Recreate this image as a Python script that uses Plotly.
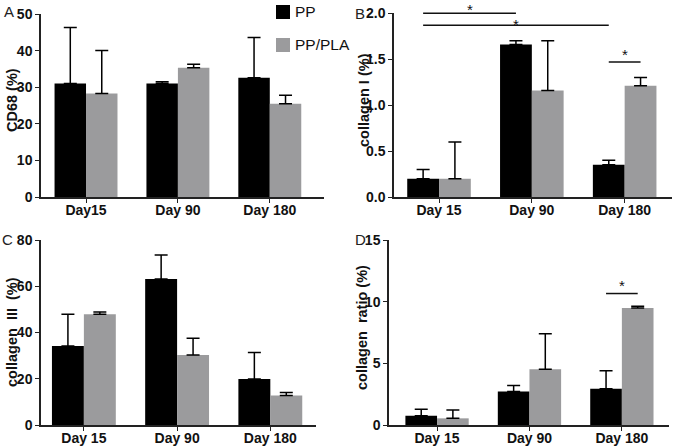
import plotly.graph_objects as go

W, H = 675, 446

# ---------------- data ----------------
cats_a = ["Day15", "Day 90", "Day 180"]
cats = ["Day 15", "Day 90", "Day 180"]
series_names = ["PP", "PP/PLA"]

cd68_pp = [31.0, 31.0, 32.6]
cd68_pp_err = [15.3, 0.5, 11.0]
cd68_pla = [28.3, 35.3, 25.5]
cd68_pla_err = [11.7, 1.0, 2.3]

col1_pp = [0.20, 1.66, 0.35]
col1_pp_err = [0.10, 0.04, 0.05]
col1_pla = [0.20, 1.16, 1.21]
col1_pla_err = [0.40, 0.54, 0.09]

col3_pp = [34.2, 63.1, 19.9]
col3_pp_err = [13.7, 10.4, 11.4]
col3_pla = [47.9, 30.3, 12.8]
col3_pla_err = [1.0, 7.2, 1.3]

ratio_pp = [0.76, 2.71, 2.93]
ratio_pp_err = [0.51, 0.49, 1.46]
ratio_pla = [0.54, 4.53, 9.49]
ratio_pla_err = [0.68, 2.87, 0.14]

# ---------------- style ----------------
BLACK = "#000000"
GRAY = "#9b9b9d"
AXC = "#222222"
FONT = "Liberation Sans, Arial, sans-serif"
SERIES_COLORS = [BLACK, GRAY]

def px_x(p):
    return p / W

def px_y(p):
    return 1 - p / H

panels = [
    dict(c=cats_a, pp=cd68_pp, ppe=cd68_pp_err, pla=cd68_pla, plae=cd68_pla_err,
         xd=(41, 324), yd=(197, 14), xr=(-0.49, 2.59), yr=(0, 50), dt=10, fmt="d"),
    dict(c=cats, pp=col1_pp, ppe=col1_pp_err, pla=col1_pla, plae=col1_pla_err,
         xd=(394, 672), yd=(197, 13.3), xr=(-0.485, 2.51), yr=(0, 2.0), dt=0.5, fmt=".1f"),
    dict(c=cats, pp=col3_pp, ppe=col3_pp_err, pla=col3_pla, plae=col3_pla_err,
         xd=(41, 316), yd=(425, 240), xr=(-0.46, 2.49), yr=(0, 80), dt=20, fmt="d"),
    dict(c=cats, pp=ratio_pp, ppe=ratio_pp_err, pla=ratio_pla, plae=ratio_pla_err,
         xd=(389, 669), yd=(425, 240), xr=(-0.52, 2.51), yr=(0, 15), dt=5, fmt="d"),
]

fig = go.Figure()
layout = dict(
    width=W, height=H, autosize=False,
    margin=dict(l=0, r=0, t=0, b=0, autoexpand=False),
    paper_bgcolor="white", plot_bgcolor="white",
    barmode="group", bargap=0.315, bargroupgap=0,
    font=dict(family=FONT, color=AXC),
    showlegend=False,
)

for i, p in enumerate(panels):
    n = "" if i == 0 else str(i + 1)
    xa, ya = "x" + n, "y" + n
    for name, vals, errs, col in [(series_names[0], p["pp"], p["ppe"], BLACK),
                                  (series_names[1], p["pla"], p["plae"], GRAY)]:
        fig.add_trace(go.Bar(
            x=p["c"], y=vals, name=name, xaxis=xa, yaxis=ya,
            marker=dict(color=col, line=dict(width=0)),
            error_y=dict(type="data", array=errs, arrayminus=[0] * len(errs),
                         symmetric=False, color=BLACK, thickness=1.5, width=6.5),
            legendgroup=name,
        ))
    layout["xaxis" + n] = dict(
        domain=[px_x(p["xd"][0]), px_x(p["xd"][1])], anchor=ya,
        type="category", range=list(p["xr"]),
        showline=True, linecolor=AXC, linewidth=1.5,
        ticks="outside", ticklen=4, tickwidth=1.2, tickcolor=AXC,
        ticklabelstandoff=-5,
        tickfont=dict(size=14, family=FONT, color="#111111", weight="bold"),
        showgrid=False, zeroline=False, fixedrange=True,
    )
    layout["yaxis" + n] = dict(
        domain=[px_y(p["yd"][0]), px_y(p["yd"][1])], anchor=xa,
        range=list(p["yr"]), dtick=p["dt"], tick0=0, tickformat=p["fmt"],
        showline=True, linecolor=AXC, linewidth=1.5,
        ticks="outside", ticklen=4, tickwidth=1.2, tickcolor=AXC,
        tickfont=dict(size=14, family=FONT, color="#111111", weight="bold"),
        showgrid=False, zeroline=False, fixedrange=True,
    )

fig.update_layout(**layout)

# ---------------- helpers for significance marks ----------------
BAR_OFF = (1 - 0.315) / 4  # offset of each bar centre from category centre

def xpaper(panel, v):
    p = panels[panel]
    lo, hi = p["xr"]
    d0, d1 = px_x(p["xd"][0]), px_x(p["xd"][1])
    return d0 + (v - lo) / (hi - lo) * (d1 - d0)

def ypaper(panel, v):
    p = panels[panel]
    lo, hi = p["yr"]
    d0, d1 = px_y(p["yd"][0]), px_y(p["yd"][1])
    return d0 + (v - lo) / (hi - lo) * (d1 - d0)

sig_panel = [1, 1, 1, 3]
sig_x0 = [0 - BAR_OFF, 0 - BAR_OFF, 2 - BAR_OFF, 2 - BAR_OFF]
sig_x1 = [1 - BAR_OFF, 2 - BAR_OFF, 2 + BAR_OFF, 2 + BAR_OFF]
sig_y = [2.0, 1.87, 1.47, 10.66]
star_gap = [8, 5, 12, 13]       # px from the line up to the star centre

shapes = []
annotations = []
for pn, x0, x1, yv, g in zip(sig_panel, sig_x0, sig_x1, sig_y, star_gap):
    yp = ypaper(pn, yv)
    shapes.append(dict(type="line", xref="paper", yref="paper",
                       x0=xpaper(pn, x0), x1=xpaper(pn, x1), y0=yp, y1=yp,
                       line=dict(color="#111111", width=1.5)))
    annotations.append(dict(text="*", xref="paper", yref="paper",
                            x=(xpaper(pn, x0) + xpaper(pn, x1)) / 2,
                            y=yp + (g - 4.5) / H,
                            xanchor="center", yanchor="middle", showarrow=False,
                            font=dict(size=15, family=FONT, color="#111111")))

# legend (drawn as squares and labels, in panel A's top-right corner)
leg_rows = [12, 45]
for name, col, ry in zip(series_names, SERIES_COLORS, leg_rows):
    shapes.append(dict(type="rect", xref="paper", yref="paper",
                       x0=px_x(276), x1=px_x(290), y0=px_y(ry + 7), y1=px_y(ry - 7),
                       fillcolor=col, line=dict(width=0)))
    annotations.append(dict(text=name, xref="paper", yref="paper", x=px_x(293), y=px_y(ry),
                            xanchor="left", yanchor="middle", showarrow=False,
                            font=dict(size=15.5, family=FONT, color="#111111")))

# panel letters
letters = ["A", "B", "C", "D"]
letter_pos = [(9, 12), (360, 14), (7, 239), (360, 239)]
for t, (lx, ly) in zip(letters, letter_pos):
    annotations.append(dict(text=t, xref="paper", yref="paper", x=px_x(lx), y=px_y(ly),
                            xanchor="center", yanchor="middle", showarrow=False,
                            font=dict(size=15, family=FONT, color="#222222")))

# y-axis titles
ytitles = ["CD68 (%)", "collagen I (%)", "collagen  III  (%)", "collagen  ratio (%)"]
ytitle_pos = [(12, 100), (364, 100), (12, 332), (362, 328)]
for t, (tx, ty) in zip(ytitles, ytitle_pos):
    annotations.append(dict(text=t, xref="paper", yref="paper", x=px_x(tx), y=px_y(ty),
                            xanchor="center", yanchor="middle", showarrow=False,
                            textangle=-90,
                            font=dict(size=14.5, family=FONT, color="#111111", weight="bold")))

fig.update_layout(shapes=shapes, annotations=annotations)
fig.write_html("out.html",
               config={"displayModeBar": False},
               post_script="document.body.style.margin='0px';document.body.style.padding='0px';")
